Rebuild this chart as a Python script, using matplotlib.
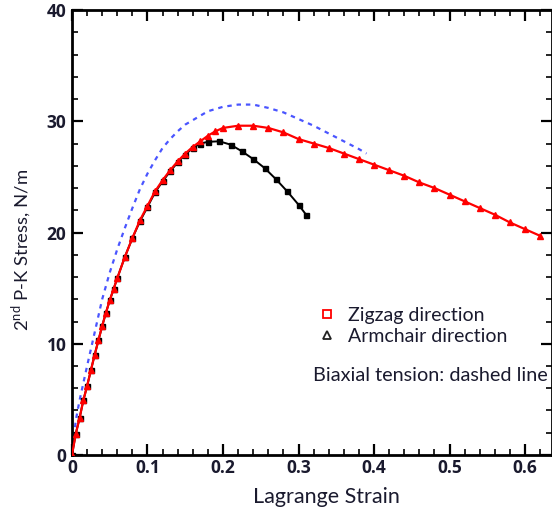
import matplotlib
matplotlib.use("Agg")
import matplotlib.pyplot as plt
from matplotlib.ticker import MultipleLocator
from matplotlib.lines import Line2D

plt.rcParams['font.family'] = ['Lato', 'DejaVu Sans']

# Zigzag direction (red, triangles)
zz_strain = [0.0, 0.005, 0.01, 0.015, 0.02, 0.025, 0.03, 0.035, 0.04, 0.045, 0.05, 0.055,
             0.06, 0.07, 0.08, 0.09, 0.10, 0.11, 0.12, 0.13, 0.14, 0.15, 0.16, 0.17, 0.18,
             0.19, 0.20, 0.22, 0.24, 0.26, 0.28, 0.30, 0.32, 0.34, 0.36, 0.38, 0.40, 0.42,
             0.44, 0.46, 0.48, 0.50, 0.52, 0.54, 0.56, 0.58, 0.60, 0.62]
zz_stress = [0.0, 1.9, 3.3, 4.9, 6.2, 7.6, 9.0, 10.3, 11.6, 12.8, 13.9, 14.9,
             15.9, 17.8, 19.5, 21.1, 22.4, 23.7, 24.7, 25.6, 26.4, 27.1, 27.7, 28.2, 28.7,
             29.1, 29.4, 29.6, 29.6, 29.4, 29.0, 28.4, 28.0, 27.6, 27.1, 26.6, 26.1, 25.6,
             25.1, 24.5, 24.0, 23.4, 22.8, 22.2, 21.6, 20.9, 20.3, 19.7]

# Armchair direction (black, squares)
ac_strain = [0.0, 0.005, 0.01, 0.015, 0.02, 0.025, 0.03, 0.035, 0.04, 0.045, 0.05, 0.055,
             0.06, 0.07, 0.08, 0.09, 0.10, 0.11, 0.12, 0.13, 0.14, 0.15, 0.16, 0.17, 0.18,
             0.195, 0.21, 0.225, 0.24, 0.255, 0.27, 0.285, 0.30, 0.31]
ac_stress = [0.0, 1.9, 3.3, 4.9, 6.2, 7.6, 9.0, 10.3, 11.6, 12.8, 13.9, 14.9,
             15.9, 17.8, 19.5, 21.0, 22.3, 23.6, 24.6, 25.5, 26.3, 27.0, 27.6, 28.0, 28.15,
             28.2, 27.9, 27.3, 26.6, 25.8, 24.8, 23.7, 22.5, 21.6]

# Biaxial tension (blue dashed)
bi_strain = [0.0, 0.005, 0.01, 0.02, 0.03, 0.04, 0.05, 0.06, 0.07, 0.08, 0.09, 0.10,
             0.11, 0.12, 0.13, 0.14, 0.15, 0.16, 0.17, 0.18, 0.19, 0.20, 0.22, 0.24,
             0.26, 0.28, 0.30, 0.32, 0.34, 0.36, 0.38, 0.39]
bi_stress = [0.0, 3.1, 4.9, 8.0, 11.0, 14.0, 16.4, 18.5, 20.4, 22.2, 23.9, 25.3,
             26.5, 27.6, 28.4, 29.1, 29.7, 30.1, 30.5, 30.9, 31.1, 31.3, 31.5, 31.5,
             31.2, 30.8, 30.2, 29.6, 28.9, 28.2, 27.5, 27.1]

x_ticks = [0, 0.1, 0.2, 0.3, 0.4, 0.5, 0.6]
x_labels = ['0', '0.1', '0.2', '0.3', '0.4', '0.5', '0.6']
y_ticks = [0, 10, 20, 30, 40]
y_labels = ['0', '10', '20', '30', '40']

txt = '#1a1a2e'

fig = plt.figure(figsize=(5.52, 5.14), dpi=100)
ax = fig.add_axes([0.1304, 0.1148, 0.8687, 0.8657])

ax.plot(bi_strain, bi_stress, color='#4a55ff', lw=1.6, ls=(0, (2.0, 2.2)), zorder=2)
ax.plot(ac_strain, ac_stress, color='black', lw=1.4, marker='s', ms=3.6, zorder=3)
ax.plot(zz_strain, zz_stress, color='red', lw=1.6, marker='^', ms=4.8, zorder=4)

ax.set_xlim(0, 0.635)
ax.set_ylim(0, 40)
ax.xaxis.set_minor_locator(MultipleLocator(0.02))
ax.yaxis.set_minor_locator(MultipleLocator(2))
tickfont = dict(family=['Open Sans', 'DejaVu Sans'], weight='bold', size=12.5)
ax.set_xticks(x_ticks)
ax.set_xticklabels(x_labels, **tickfont)
ax.set_yticks(y_ticks)
ax.set_yticklabels(y_labels, **tickfont)

ax.tick_params(which='both', direction='in', top=True, right=True, colors='black',
               labelcolor=txt)
ax.tick_params(which='major', length=8, width=1.6)
ax.tick_params(which='minor', length=4, width=1.2)
ax.tick_params(axis='x', pad=3)
ax.tick_params(axis='y', pad=4)
for s in ax.spines.values():
    s.set_linewidth(2.0)

ax.set_xlabel('Lagrange Strain', fontsize=15.5, color=txt)
ax.xaxis.set_label_coords(0.53, -0.072)
ax.set_ylabel('2$^{\\mathregular{nd}}$ P-K Stress, N/m', fontsize=13.3, color=txt)
ax.yaxis.set_label_coords(-0.082, 0.46)

handles = [Line2D([], [], ls='none', marker='s', mfc='white', mec='red', mew=1.3, ms=6),
           Line2D([], [], ls='none', marker='^', mfc='white', mec='#222222', mew=1.3, ms=6)]
leg = ax.legend(handles, ['Zigzag direction', 'Armchair direction'],
                loc='upper left', bbox_to_anchor=(0.495, 0.35), frameon=False,
                fontsize=14, handletextpad=0.6, labelspacing=0.2, handlelength=1.0,
                borderaxespad=0)
for t in leg.get_texts():
    t.set_color(txt)
ax.text(0.502, 0.178, 'Biaxial tension: dashed line', transform=ax.transAxes,
        fontsize=14.3, color=txt, ha='left', va='center')

fig.savefig('out.png', dpi=100)
